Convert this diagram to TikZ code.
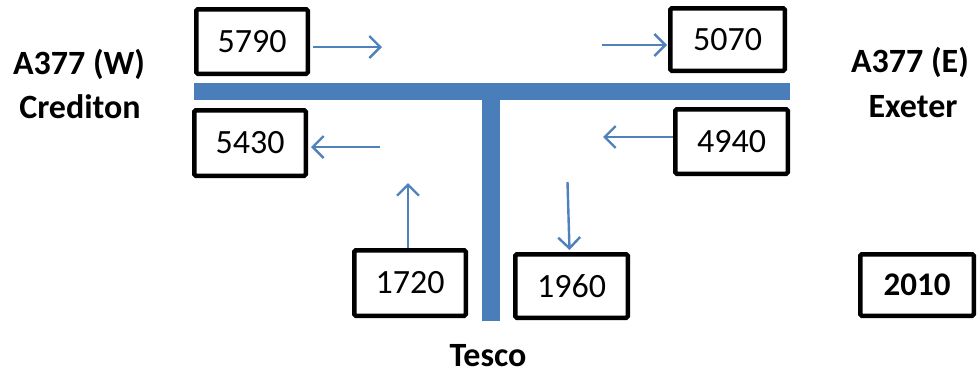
\documentclass[tikz,border=0pt]{standalone}
\usepackage{fontspec}
\setmainfont{Carlito}
\usetikzlibrary{arrows.meta}
\definecolor{roadblue}{HTML}{4A7EBB}
\definecolor{arrowblue}{HTML}{4F81BD}
\tikzset{
  countbox/.style={draw=black, line width=4.5pt, rounded corners=1.5pt, fill=white, inner sep=0pt,
    font=\fontsize{34}{38}\selectfont, text=black},
  boldlabel/.style={font=\bfseries\fontsize{34}{38}\selectfont, text=black, inner sep=0pt, align=center},
  flow/.style={draw=arrowblue, line width=2.4pt, -{Straight Barb[length=11pt,width=22pt,line width=2.4pt]}},
  road/.style={fill=roadblue, draw=none}
}
\begin{document}
\begin{tikzpicture}[x=1pt,y=-1pt]
\useasboundingbox (0,0) rectangle (980,376);
% roads
\fill[road] (194,82.5) rectangle (790,100);
\fill[road] (482,91) rectangle (500,321);
% boxes
\node[countbox, minimum width=111.5pt, minimum height=64.5pt] (b5790) at (252,41.5) {5790};
\node[countbox, minimum width=111.5pt, minimum height=65.5pt] (b5430) at (250,143) {5430};
\node[countbox, minimum width=114.5pt, minimum height=62.5pt] (b5070) at (727.5,39.5) {5070};
\node[countbox, minimum width=112.5pt, minimum height=64.5pt] (b4940) at (731.5,141.5) {4940};
\node[countbox, minimum width=111.5pt, minimum height=65.5pt] (b1720) at (410,283) {1720};
\node[countbox, minimum width=112.5pt, minimum height=63.5pt] (b1960) at (571.5,286) {1960};
\node[countbox, minimum width=113.5pt, minimum height=61.5pt, font=\bfseries\fontsize{33}{38}\selectfont] (b2010) at (917,285) {2010};
% labels
\node[boldlabel] (w1) at (79,64) {A377 (W)};
\node[boldlabel] (w2) at (80,107) {Crediton};
\node[boldlabel] (e1) at (910,62) {A377 (E)};
\node[boldlabel] (e2) at (913,107) {Exeter};
\node[boldlabel] (tesco) at (488,356) {Tesco};
% arrow coordinates
\coordinate (a1s) at (313,47);
\coordinate (a1e) at (382,47);
\coordinate (a2s) at (380,147);
\coordinate (a2e) at (311,147);
\coordinate (a3s) at (602,45);
\coordinate (a3e) at (667,45);
\coordinate (a4s) at (673,137);
\coordinate (a4e) at (603,137);
\coordinate (a5s) at (408,248);
\coordinate (a5e) at (408,183);
\coordinate (a6s) at (567.5,182);
\coordinate (a6e) at (569.5,250);
\draw[flow] (a1s) -- (a1e);
\draw[flow] (a2s) -- (a2e);
\draw[flow] (a3s) -- (a3e);
\draw[flow] (a4s) -- (a4e);
\draw[flow] (a5s) -- (a5e);
\draw[flow] (a6s) -- (a6e);
\end{tikzpicture}
\end{document}
